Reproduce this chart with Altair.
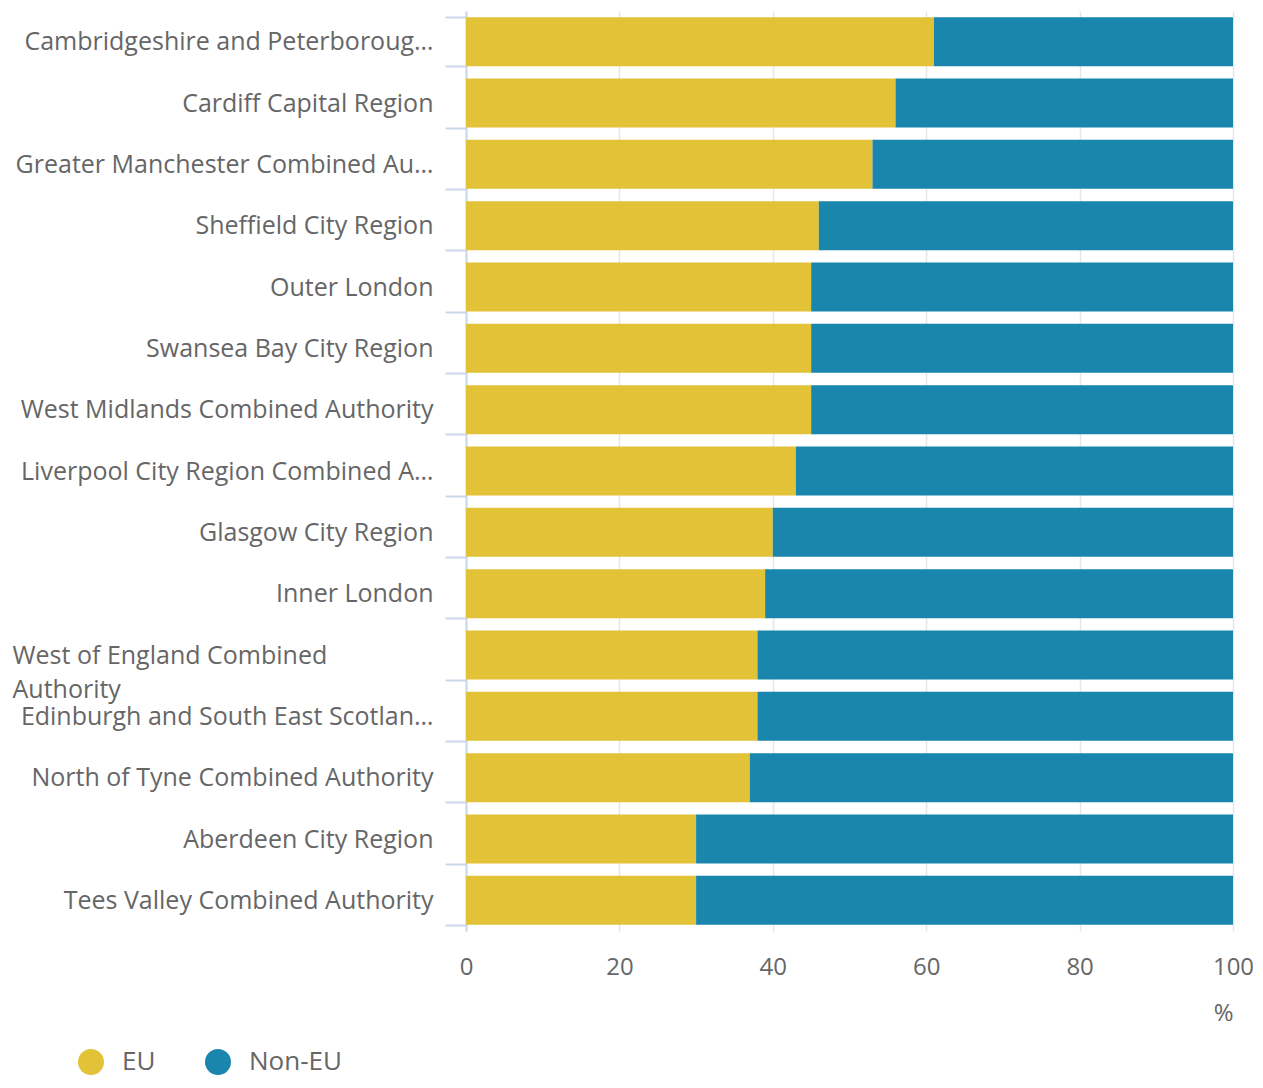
import altair as alt
import pandas as pd

regions = [
    "Cambridgeshire and Peterborough Combined Authority",
    "Cardiff Capital Region",
    "Greater Manchester Combined Authority",
    "Sheffield City Region",
    "Outer London",
    "Swansea Bay City Region",
    "West Midlands Combined Authority",
    "Liverpool City Region Combined Authority",
    "Glasgow City Region",
    "Inner London",
    "West of England Combined Authority",
    "Edinburgh and South East Scotland City Region",
    "North of Tyne Combined Authority",
    "Aberdeen City Region",
    "Tees Valley Combined Authority",
]
eu = [61, 56, 53, 46, 45, 45, 45, 43, 40, 39, 38, 38, 37, 30, 30]
non_eu = [39, 44, 47, 54, 55, 55, 55, 57, 60, 61, 62, 62, 63, 70, 70]
series = ["EU", "Non-EU"]
colors = ["#e2c237", "#1a85ad"]

rows = []
for r, a, b in zip(regions, eu, non_eu):
    rows.append({"region": r, "group": "EU", "value": a, "ord": 0})
    rows.append({"region": r, "group": "Non-EU", "value": b, "ord": 1})
df = pd.DataFrame(rows)

wrap = "West of England Combined Authority"
FONT = "Open Sans"
GREY = "#666666"

chart = alt.Chart(df).mark_bar().encode(
    y=alt.Y("region:N", sort=regions, title=None,
            scale=alt.Scale(paddingInner=0.2, paddingOuter=0.1),
            axis=alt.Axis(
                labelFont=FONT, labelFontSize=25, labelColor=GREY,
                labelLimit=421, tickSize=21, tickColor="#ccd6eb", tickWidth=2,
                domainColor="#ccd6eb", domainWidth=2, tickBand="extent",
                labelLineHeight=34,
                labelExpr=f"datum.value == '{wrap}' ? ['West of England Combined', 'Authority'] : datum.value",
                labelAlign={"condition": {"test": f"datum.value == '{wrap}'", "value": "left"}, "value": "right"},
                labelPadding={"condition": {"test": f"datum.value == '{wrap}'", "value": 433}, "value": 12},
                labelBaseline={"condition": {"test": f"datum.value == '{wrap}'", "value": "top"}, "value": "middle"},
                labelOffset={"condition": {"test": f"datum.value == '{wrap}'", "value": -12}, "value": 0},
            )),
    x=alt.X("value:Q", stack="zero", title="%",
            scale=alt.Scale(domain=[0, 100], nice=False),
            axis=alt.Axis(values=[0, 20, 40, 60, 80, 100], labelFont=FONT, labelFontSize=24,
                          labelColor=GREY, ticks=False, domain=False, labelPadding=24,
                          labelFlush=False,
                          gridColor="#e6e6e6", gridWidth=1.5,
                          titleFont=FONT, titleFontSize=24, titleFontWeight="normal",
                          titleColor=GREY, titleAnchor="end", titlePadding=22)),
    color=alt.Color("group:N", sort=series,
                    scale=alt.Scale(domain=series, range=colors),
                    legend=alt.Legend(title=None, orient="none", direction="horizontal",
                                      legendX=-388, legendY=1038, symbolType="circle",
                                      symbolSize=676, symbolOpacity=1, symbolStrokeWidth=0,
                                      labelFont=FONT, labelFontSize=26, labelColor=GREY,
                                      labelOffset=18, columnPadding=49, padding=0)),
    order=alt.Order("ord:Q"),
).properties(
    width=767, height=920,
    autosize=alt.AutoSizeParams(type="none"),
    padding={"left": 458, "top": 3, "right": 20, "bottom": 150},
).configure_view(stroke=None)

chart.save("out.html", embed_options={"renderer": "svg", "actions": False})
